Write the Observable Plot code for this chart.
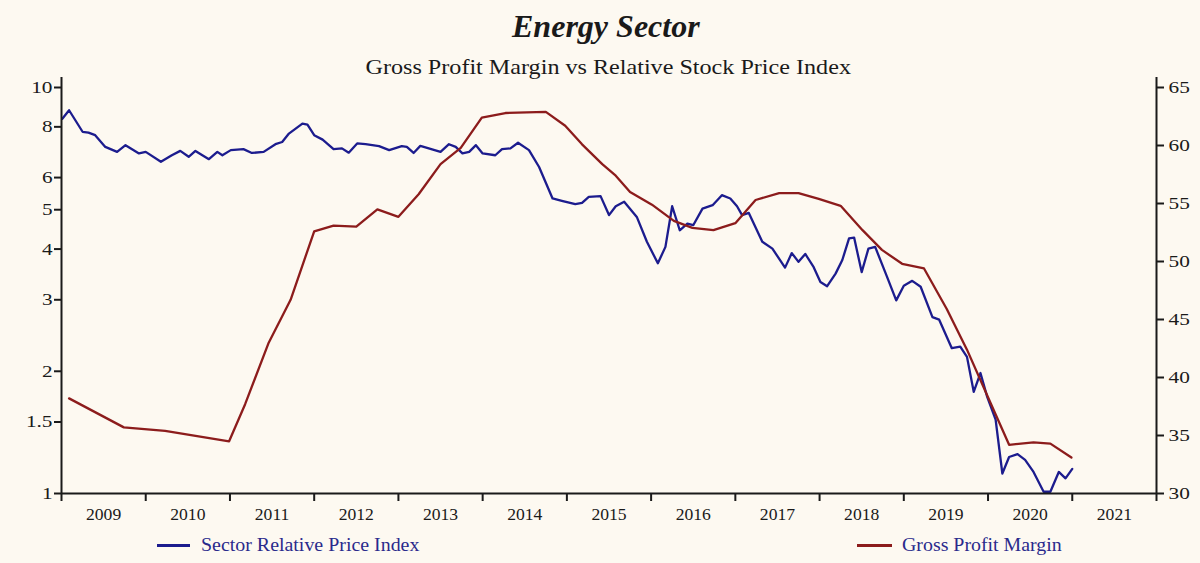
<!DOCTYPE html>
<html><head><meta charset="utf-8">
<script src="https://cdn.jsdelivr.net/npm/d3@7"></script>
<script src="https://cdn.jsdelivr.net/npm/@observablehq/plot@0.6"></script>
<style>
html,body{margin:0;padding:0;background:#fdf9f1;}
body{width:1200px;height:563px;overflow:hidden;font-family:"Liberation Serif","Times New Roman",serif;color:#1a1a1a;}
#header{position:relative;height:70px;}
#legend{position:relative;height:33px;}
.t{position:absolute;white-space:nowrap;line-height:1;}
.sw{position:absolute;height:3px;}
</style></head><body>
<div id="header">
  <span id="title" class="t" style="font-size:31px;font-weight:bold;font-style:italic;">Energy Sector</span>
  <span id="subtitle" class="t" style="font-size:21px;">Gross Profit Margin vs Relative Stock Price Index</span>
</div>
<div id="chart"></div>
<div id="legend">
  <div class="sw" id="swBlue"></div>
  <span id="legBlue" class="t" style="font-size:19px;"></span>
  <div class="sw" id="swRed"></div>
  <span id="legRed" class="t" style="font-size:19px;"></span>
</div>
<script>
// ---- data ----
const seriesNames = ["Sector Relative Price Index", "Gross Profit Margin"];
const seriesColors = ["#1c1c8e", "#8c1c1c"];

const priceYears = [2009.01, 2009.09, 2009.25, 2009.32, 2009.40, 2009.52, 2009.66, 2009.76, 2009.92, 2010.00,
  2010.18, 2010.31, 2010.41, 2010.51, 2010.59, 2010.75, 2010.85, 2010.91, 2011.01, 2011.16,
  2011.26, 2011.40, 2011.54, 2011.62, 2011.70, 2011.86, 2011.92, 2012.00, 2012.10, 2012.23,
  2012.33, 2012.41, 2012.51, 2012.61, 2012.77, 2012.89, 2013.04, 2013.10, 2013.18, 2013.26,
  2013.36, 2013.50, 2013.60, 2013.68, 2013.76, 2013.84, 2013.92, 2014.00, 2014.15, 2014.23,
  2014.33, 2014.42, 2014.55, 2014.67, 2014.83, 2014.94, 2015.10, 2015.18, 2015.26, 2015.40,
  2015.50, 2015.58, 2015.68, 2015.83, 2015.95, 2016.08, 2016.17, 2016.25, 2016.34, 2016.43,
  2016.50, 2016.61, 2016.73, 2016.84, 2016.94, 2017.02, 2017.08, 2017.16, 2017.32, 2017.44,
  2017.59, 2017.67, 2017.75, 2017.83, 2017.93, 2018.01, 2018.09, 2018.19, 2018.27, 2018.35,
  2018.41, 2018.50, 2018.58, 2018.66, 2018.80, 2018.91, 2019.00, 2019.10, 2019.20, 2019.34,
  2019.42, 2019.57, 2019.67, 2019.75, 2019.83, 2019.91, 2019.99, 2020.09, 2020.17, 2020.25,
  2020.35, 2020.44, 2020.54, 2020.66, 2020.74, 2020.84, 2020.92, 2021.00];
const priceValues = [8.38, 8.79, 7.78, 7.74, 7.63, 7.14, 6.94, 7.21, 6.88, 6.94,
  6.56, 6.81, 6.98, 6.75, 6.98, 6.66, 6.94, 6.81, 7.01, 7.05,
  6.90, 6.94, 7.25, 7.34, 7.70, 8.15, 8.10, 7.63, 7.44, 7.05,
  7.08, 6.91, 7.28, 7.25, 7.17, 7.01, 7.17, 7.14, 6.90, 7.18,
  7.08, 6.94, 7.25, 7.14, 6.88, 6.94, 7.21, 6.88, 6.81, 7.05,
  7.08, 7.31, 7.01, 6.37, 5.33, 5.26, 5.16, 5.20, 5.38, 5.40,
  4.85, 5.10, 5.23, 4.80, 4.17, 3.69, 4.05, 5.10, 4.45, 4.62,
  4.58, 5.03, 5.13, 5.43, 5.33, 5.10, 4.85, 4.91, 4.17, 4.01,
  3.60, 3.91, 3.72, 3.89, 3.61, 3.32, 3.24, 3.48, 3.76, 4.25,
  4.27, 3.51, 4.01, 4.05, 3.42, 2.99, 3.25, 3.34, 3.23, 2.72,
  2.68, 2.28, 2.30, 2.17, 1.78, 1.98, 1.73, 1.52, 1.12, 1.23,
  1.25, 1.21, 1.13, 1.01, 1.01, 1.13, 1.09, 1.15];

const marginYears = [2009.09, 2009.74, 2010.23, 2010.99, 2011.18, 2011.46, 2011.72, 2012.00, 2012.23, 2012.50,
  2012.75, 2013.00, 2013.24, 2013.50, 2013.74, 2013.99, 2014.27, 2014.75, 2014.98, 2015.18,
  2015.42, 2015.58, 2015.75, 2016.01, 2016.27, 2016.49, 2016.74, 2017.00, 2017.24, 2017.52,
  2017.75, 2017.99, 2018.25, 2018.51, 2018.74, 2018.98, 2019.24, 2019.51, 2019.75, 2020.03,
  2020.25, 2020.54, 2020.74, 2020.99];
const marginValues = [38.2, 35.7, 35.4, 34.5, 37.7, 43.0, 46.7, 52.6, 53.1, 53.0,
  54.5, 53.85, 55.8, 58.4, 59.8, 62.4, 62.8, 62.9, 61.7, 60.1,
  58.4, 57.4, 56.0, 54.9, 53.5, 52.9, 52.7, 53.3, 55.3, 55.9,
  55.9, 55.4, 54.8, 52.7, 51.0, 49.8, 49.4, 45.9, 42.4, 37.8,
  34.2, 34.4, 34.3, 33.1];

const leftTicks = [1, 1.5, 2, 3, 4, 5, 6, 8, 10];
const rightTicks = [30, 35, 40, 45, 50, 55, 60, 65];
const yearLabels = [2009, 2010, 2011, 2012, 2013, 2014, 2015, 2016, 2017, 2018, 2019, 2020, 2021];

// ---- build ----
const priceData = priceYears.map((y, i) => ({year: y, value: priceValues[i]}));
const marginData = marginYears.map((y, i) => ({year: y, value: marginValues[i]}));
const rMin = 30, rMax = 65;
const toLeft = m => Math.pow(10, (m - rMin) / (rMax - rMin));
const fromLeft = v => Math.round(rMin + (rMax - rMin) * Math.log10(v));
const yTop = Math.pow(10, 416 / 406);
const yearEdges = d3.range(yearLabels[0], yearLabels[yearLabels.length - 1] + 2);
const axisColor = "#1a1a1a";

const chart = Plot.plot({
  width: 1200, height: 460,
  marginLeft: 61, marginRight: 44, marginTop: 7, marginBottom: 37,
  style: {background: "transparent", fontFamily: "'Liberation Serif', 'Times New Roman', serif", fontSize: "16px", color: axisColor},
  x: {type: "linear", domain: [yearEdges[0], yearEdges[yearEdges.length - 1]], axis: null},
  y: {type: "log", domain: [1, yTop], axis: null},
  marks: [
    Plot.line(priceData, {x: "year", y: "value", stroke: seriesColors[0], strokeWidth: 2.3}),
    Plot.line(marginData, {x: "year", y: d => toLeft(d.value), stroke: seriesColors[1], strokeWidth: 2.3}),
    Plot.ruleX([yearEdges[0], yearEdges[yearEdges.length - 1]], {stroke: axisColor, strokeWidth: 2}),
    Plot.ruleY([1], {stroke: axisColor, strokeWidth: 2}),
    Plot.axisY({anchor: "left", ticks: leftTicks, tickFormat: d => String(d), tickSize: 7, tickPadding: 2, strokeWidth: 2, label: null, fontSize: 17}),
    Plot.axisY({anchor: "right", ticks: rightTicks.map(toLeft), tickFormat: d => String(fromLeft(d)), tickSize: 7, tickPadding: 5, strokeWidth: 2, label: null, fontSize: 17}),
    Plot.axisX({anchor: "bottom", ticks: yearEdges, tickFormat: () => "", tickSize: 8, strokeWidth: 2, label: null}),
    Plot.axisX({anchor: "bottom", ticks: yearLabels.map(y => y + 0.5), tickFormat: d => String(Math.floor(d)), tickSize: 0, tickPadding: 15, label: null, fontSize: 16})
  ]
});
document.getElementById("chart").appendChild(chart);

// stretch tick labels horizontally to match the wide serif look
function stretch(el, f) {
  const w = el.getComputedTextLength();
  if (w > 0) { el.setAttribute("textLength", (w * f).toFixed(1)); el.setAttribute("lengthAdjust", "spacingAndGlyphs"); }
}
chart.querySelectorAll('g[aria-label="y-axis tick label"] text').forEach(t => stretch(t, 1.25));
chart.querySelectorAll('g[aria-label="x-axis tick label"] text').forEach(t => stretch(t, 1.1));

// header and legend placement
function place(id, left, baseline, fs, targetW, center) {
  const el = document.getElementById(id);
  const w = el.offsetWidth;
  const s = targetW / w;
  el.style.top = (baseline - 0.8375 * fs) + "px";
  if (center) { el.style.left = (left - w / 2) + "px"; el.style.transformOrigin = "50% 0"; }
  else { el.style.left = left + "px"; el.style.transformOrigin = "0 0"; }
  el.style.transform = "scaleX(" + s.toFixed(3) + ")";
}
document.getElementById("legBlue").textContent = seriesNames[0];
document.getElementById("legRed").textContent = seriesNames[1];
["legBlue", "legRed"].forEach(id => document.getElementById(id).style.color = "#2a2a8c");
place("title", 606, 37, 31, 188, true);
place("subtitle", 608, 75, 21, 485, true);
place("legBlue", 201, 21, 19, 218, false);
place("legRed", 902, 21, 19, 160, false);
const sb = document.getElementById("swBlue");
sb.style.left = "157px"; sb.style.width = "33px"; sb.style.top = "14px"; sb.style.background = seriesColors[0];
const sr = document.getElementById("swRed");
sr.style.left = "857px"; sr.style.width = "35px"; sr.style.top = "14px"; sr.style.background = seriesColors[1];
</script>
</body></html>
